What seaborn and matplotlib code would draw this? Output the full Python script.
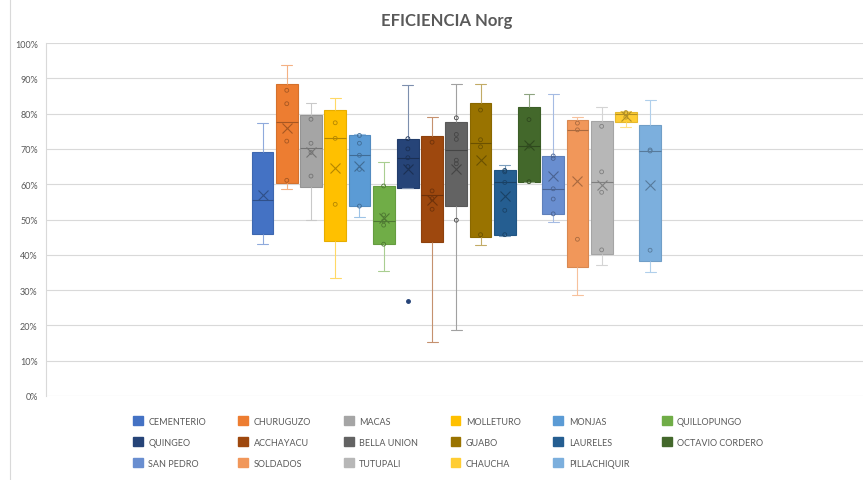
import numpy as np
import pandas as pd
import matplotlib
matplotlib.use("Agg")
import matplotlib as mpl
import matplotlib.pyplot as plt
import matplotlib.patches as mpatches
from matplotlib.lines import Line2D
import seaborn as sns

# eficiencia por planta (%)
cementerio = [43.0, 48.6, 55.4, 61.2, 77.2]
churuguzo = [58.6, 61.1, 72.2, 82.8, 86.6, 93.8]
macas = [50.0, 62.3, 69.0, 71.6, 78.4, 83.0]
molleturo = [33.5, 54.3, 73.0, 77.4, 84.5]
monjas = [50.7, 53.8, 64.2, 68.2, 71.6, 73.8, 74.1]
quillopungo = [35.4, 43.0, 48.4, 49.6, 51.3, 59.5, 66.3]
quingeo = [26.9, 59.0, 65.0, 67.5, 70.0, 72.9, 88.1]
acchayacu = [15.4, 52.9, 55.9, 58.1, 71.9, 79.0]
bella_union = [18.6, 49.8, 65.8, 66.8, 72.7, 74.1, 78.8, 88.5]
guabo = [42.7, 45.7, 70.6, 72.6, 81.0, 88.5]
laureles = [45.3, 45.7, 52.6, 60.5, 63.5, 63.9, 65.4]
octavio_cordero = [60.6, 60.7, 70.8, 78.3, 85.5]
san_pedro = [49.2, 51.6, 55.8, 58.7, 67.3, 68.0, 85.6]
soldados = [28.5, 44.4, 75.4, 77.3, 78.9]
tutupali = [37.2, 41.4, 57.7, 63.5, 76.4, 82.0]
chaucha = [76.3, 79.0, 80.0, 80.3, 80.8]
pillachiquir = [35.0, 41.3, 69.4, 69.7, 83.9]

names = ["CEMENTERIO", "CHURUGUZO", "MACAS", "MOLLETURO", "MONJAS", "QUILLOPUNGO",
         "QUINGEO", "ACCHAYACU", "BELLA UNION", "GUABO", "LAURELES", "OCTAVIO CORDERO",
         "SAN PEDRO", "SOLDADOS", "TUTUPALI", "CHAUCHA", "PILLACHIQUIR"]
values = [cementerio, churuguzo, macas, molleturo, monjas, quillopungo,
          quingeo, acchayacu, bella_union, guabo, laureles, octavio_cordero,
          san_pedro, soldados, tutupali, chaucha, pillachiquir]
colors = ["#4472C4", "#ED7D31", "#A5A5A5", "#FFC000", "#5B9BD5", "#70AD47",
          "#264478", "#9E480E", "#636363", "#997300", "#255E91", "#43682B",
          "#698ED0", "#F1975A", "#B7B7B7", "#FFCD33", "#7CAFDD"]
no_points = ["CEMENTERIO"]  # Excel didn't show inner points for this one

yticks = list(range(0, 101, 10))
ytick_labels = [f"{t}%" for t in yticks]


def excel_quartiles(x):
    # Excel box & whisker uses exclusive quartiles
    return np.percentile(np.asarray(x, float), [25, 50, 75], method="weibull")


def whisker_ends(x, whis=1.5):
    x = np.sort(np.asarray(x, float))
    q1, med, q3 = excel_quartiles(x)
    lo, hi = q1 - whis * (q3 - q1), q3 + whis * (q3 - q1)
    inside = x[(x >= lo) & (x <= hi)]
    return inside.min(), inside.max(), x[(x < lo) | (x > hi)]


_mpl_stats = mpl.cbook.boxplot_stats


def excel_stats(X, whis=1.5, **kw):
    out = _mpl_stats(X, whis=whis, **kw)
    for st, x in zip(out, X):
        q1, med, q3 = excel_quartiles(x)
        wlo, whi, fl = whisker_ends(x, whis)
        st.update(q1=q1, med=med, q3=q3, iqr=q3 - q1,
                  whislo=wlo, whishi=whi, fliers=fl)
    return out


mpl.cbook.boxplot_stats = excel_stats


def mix(c, other, t):
    a = np.array(mpl.colors.to_rgb(c))
    b = np.array(mpl.colors.to_rgb(other))
    return tuple(a * (1 - t) + b * t)


df = pd.DataFrame([(n, v) for n, vals in zip(names, values) for v in vals],
                  columns=["station", "value"])

# inner points: strictly between the whisker ends
pts = []
for n, vals in zip(names, values):
    if n in no_points:
        continue
    wlo, whi, _ = whisker_ends(vals)
    pts += [(n, v) for v in vals if wlo < v < whi]
pts = pd.DataFrame(pts, columns=["station", "value"])

sns.set_style("white")
plt.rcParams["font.family"] = ["Lato", "DejaVu Sans"]
grey = "#595959"

fig = plt.figure(figsize=(8.63, 4.81), dpi=100)
ax = fig.add_axes([46 / 863, 1 - 397 / 481, 817 / 863, 353 / 481])

sns.boxplot(data=df, x="station", y="value", hue="station", order=names,
            hue_order=names, palette=colors, saturation=1, width=0.9, whis=1.5,
            legend=False, showmeans=True, linewidth=0.8, fliersize=2.5,
            meanprops=dict(marker="x", markersize=7, markeredgewidth=0.8),
            ax=ax)

for cont in ax.containers:
    c = cont.boxes[0].get_facecolor()
    dark = mix(c, "black", 0.3)
    for b in cont.boxes:
        b.set_facecolor(c)
        b.set_edgecolor(mix(c, "black", 0.1))
    for l in list(cont.whiskers) + list(cont.caps):
        l.set_color(mix(c, "white", 0.4))
    for l in cont.medians:
        l.set_color(dark)
    for l in cont.means:
        l.set_markeredgecolor(dark)
        l.set_markerfacecolor(dark)
    for l in cont.fliers:
        l.set_markerfacecolor(c)
        l.set_markeredgecolor(c)

sns.stripplot(data=pts, x="station", y="value", hue="station", order=names,
              hue_order=names, palette=colors, jitter=False, size=2.8,
              legend=False, ax=ax, zorder=4)
for coll in ax.collections:
    fc = coll.get_facecolors()
    if len(fc):
        coll.set_edgecolors([mix(f[:3], "black", 0.3) for f in fc])
        coll.set_facecolors("none")
        coll.set_linewidth(0.6)

ax.set_xlim(-8.94, 24.79)
ax.set_ylim(0, 100)
ax.set_yticks(yticks)
ax.set_yticklabels(ytick_labels)
ax.set_xticks([])
ax.set_xlabel("")
ax.set_ylabel("")
ax.tick_params(axis="y", length=0, pad=6, labelsize=6.5, labelcolor=grey)
ax.yaxis.grid(True, color="#D9D9D9", linewidth=0.8)
ax.set_axisbelow(True)
for s in ["top", "right", "bottom"]:
    ax.spines[s].set_visible(False)
ax.spines["left"].set_color("#D9D9D9")
ax.spines["left"].set_linewidth(0.8)

fig.text(447 / 863, 1 - 21 / 481, "EFICIENCIA Norg", ha="center", va="center",
         fontsize=12, fontweight="bold", color=grey)

# Excel fills the legend row by row
order = [0, 6, 12, 1, 7, 13, 2, 8, 14, 3, 9, 15, 4, 10, 16, 5, 11]
handles = [mpatches.Patch(facecolor=colors[i], edgecolor=colors[i]) for i in order]
fig.legend(handles, [names[i] for i in order], ncol=6, loc="center",
           bbox_to_anchor=(448 / 863, 1 - 443 / 481), frameon=False,
           fontsize=6.5, labelcolor=grey, handlelength=1.1, handleheight=1.1,
           handletextpad=0.6, columnspacing=3.6, labelspacing=1.3)

fig.add_artist(Line2D([10 / 863, 10 / 863], [0, 1], color="#D9D9D9", linewidth=0.8))

fig.savefig("out.png", dpi=100)
